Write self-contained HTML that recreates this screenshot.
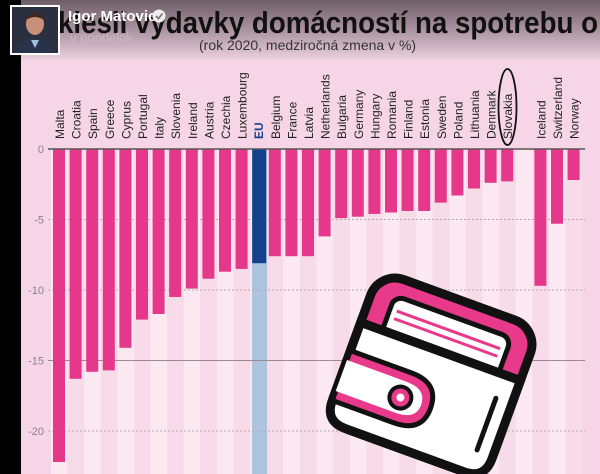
<!DOCTYPE html>
<html><head><meta charset="utf-8"><style>
html,body{margin:0;padding:0;width:600px;height:474px;overflow:hidden;background:#000}
svg{display:block}
</style></head><body>
<svg width="600" height="474" viewBox="0 0 600 474" xmlns="http://www.w3.org/2000/svg" font-family="Liberation Sans, sans-serif">
<defs>
<linearGradient id="hd" x1="0" y1="0" x2="0" y2="1">
<stop offset="0" stop-color="#6e5d66"/><stop offset="0.6" stop-color="#b79fac"/><stop offset="1" stop-color="#ecd0de"/>
</linearGradient>
</defs>
<rect x="0" y="0" width="600" height="474" fill="#000"/>
<rect x="21" y="0" width="579" height="474" fill="#f6d6e6"/>
<rect x="21" y="0" width="579" height="60" fill="url(#hd)"/>
<g>
<rect x="51" y="149" width="16.6" height="325" fill="#fbe8f1"/>
<rect x="67.6" y="149" width="16.6" height="325" fill="#f8dbe9"/>
<rect x="84.2" y="149" width="16.6" height="325" fill="#fbe8f1"/>
<rect x="100.8" y="149" width="16.6" height="325" fill="#f8dbe9"/>
<rect x="117.4" y="149" width="16.6" height="325" fill="#fbe8f1"/>
<rect x="134" y="149" width="16.6" height="325" fill="#f8dbe9"/>
<rect x="150.6" y="149" width="16.6" height="325" fill="#fbe8f1"/>
<rect x="167.2" y="149" width="16.6" height="325" fill="#f8dbe9"/>
<rect x="183.8" y="149" width="16.6" height="325" fill="#fbe8f1"/>
<rect x="200.4" y="149" width="16.6" height="325" fill="#f8dbe9"/>
<rect x="217" y="149" width="16.6" height="325" fill="#fbe8f1"/>
<rect x="233.6" y="149" width="16.6" height="325" fill="#f8dbe9"/>
<rect x="250.2" y="149" width="16.6" height="325" fill="#fbe8f1"/>
<rect x="266.8" y="149" width="16.6" height="325" fill="#f8dbe9"/>
<rect x="283.4" y="149" width="16.6" height="325" fill="#fbe8f1"/>
<rect x="300" y="149" width="16.6" height="325" fill="#f8dbe9"/>
<rect x="316.6" y="149" width="16.6" height="325" fill="#fbe8f1"/>
<rect x="333.2" y="149" width="16.6" height="325" fill="#f8dbe9"/>
<rect x="349.8" y="149" width="16.6" height="325" fill="#fbe8f1"/>
<rect x="366.4" y="149" width="16.6" height="325" fill="#f8dbe9"/>
<rect x="383" y="149" width="16.6" height="325" fill="#fbe8f1"/>
<rect x="399.6" y="149" width="16.6" height="325" fill="#f8dbe9"/>
<rect x="416.2" y="149" width="16.6" height="325" fill="#fbe8f1"/>
<rect x="432.8" y="149" width="16.6" height="325" fill="#f8dbe9"/>
<rect x="449.4" y="149" width="16.6" height="325" fill="#fbe8f1"/>
<rect x="466" y="149" width="16.6" height="325" fill="#f8dbe9"/>
<rect x="482.6" y="149" width="16.6" height="325" fill="#fbe8f1"/>
<rect x="499.2" y="149" width="16.6" height="325" fill="#f8dbe9"/>
<rect x="515.8" y="149" width="16.6" height="325" fill="#fbe8f1"/>
<rect x="532.4" y="149" width="16.6" height="325" fill="#f8dbe9"/>
<rect x="549" y="149" width="16.6" height="325" fill="#fbe8f1"/>
<rect x="565.6" y="149" width="16.6" height="325" fill="#f8dbe9"/>
<rect x="252" y="149" width="15" height="325" fill="#adc4de"/>
</g>
<text x="58" y="33" font-size="31" font-weight="bold" fill="#111" textLength="540" lengthAdjust="spacingAndGlyphs">klesli výdavky domácností na spotrebu o</text>
<text x="199" y="50" font-size="14" fill="#333">(rok 2020, medziročná zmena v %)</text>
<rect x="10" y="5" width="50" height="50" fill="#fff"/>
<rect x="12" y="7" width="46" height="46" fill="#2b3040"/>
<ellipse cx="35" cy="24" rx="9" ry="11" fill="#c98f78"/>
<path d="M26 17 Q35 8 44 17 L44 20 Q35 14 26 20Z" fill="#3a2a22"/>
<path d="M16 53 Q20 38 35 38 Q50 38 54 53Z" fill="#283248"/>
<path d="M31 40 L35 48 L39 40Z" fill="#9fc0e0"/>
<text x="68" y="21" font-size="15" font-weight="bold" fill="#fff">Igor Matovic</text>
<circle cx="159" cy="16" r="6.5" fill="#eee"/>
<path d="M156 16 l2.5 2.5 l4 -5" stroke="#777" stroke-width="1.8" fill="none"/>
<text x="70" y="42" font-size="13" fill="#c8b6c0">v pondelok</text>

<g stroke-width="1">
<line x1="48" x2="585" y1="219.5" y2="219.5" stroke="#b8a8b0" stroke-dasharray="2,2"/>
<line x1="48" x2="585" y1="290" y2="290" stroke="#b8a8b0" stroke-dasharray="2,2"/>
<line x1="48" x2="585" y1="360.5" y2="360.5" stroke="#9a8a92"/>
<line x1="48" x2="585" y1="431" y2="431" stroke="#b8a8b0" stroke-dasharray="2,2"/>
</g>
<g font-size="11" fill="#8a8088" text-anchor="end">
<text x="44" y="153">0</text>
<text x="44" y="223.5">-5</text>
<text x="44" y="294">-10</text>
<text x="44" y="364.5">-15</text>
<text x="44" y="435">-20</text>
</g>
<g fill="#e5388a">
<rect x="53" y="149" width="12" height="313"/>
<rect x="69.6" y="149" width="12" height="229.8"/>
<rect x="86.2" y="149" width="12" height="222.8"/>
<rect x="102.8" y="149" width="12" height="221.4"/>
<rect x="119.4" y="149" width="12" height="198.8"/>
<rect x="136" y="149" width="12" height="170.6"/>
<rect x="152.6" y="149" width="12" height="165"/>
<rect x="169.2" y="149" width="12" height="148"/>
<rect x="185.8" y="149" width="12" height="139.6"/>
<rect x="202.4" y="149" width="12" height="129.7"/>
<rect x="219" y="149" width="12" height="122.7"/>
<rect x="235.6" y="149" width="12" height="119.9"/>
<rect x="252.2" y="149" width="14" height="114.2" fill="#14408e"/>
<rect x="268.8" y="149" width="12" height="107.2"/>
<rect x="285.4" y="149" width="12" height="107.2"/>
<rect x="302" y="149" width="12" height="107.2"/>
<rect x="318.6" y="149" width="12" height="87.4"/>
<rect x="335.2" y="149" width="12" height="69.1"/>
<rect x="351.8" y="149" width="12" height="67.7"/>
<rect x="368.4" y="149" width="12" height="64.9"/>
<rect x="385" y="149" width="12" height="63.5"/>
<rect x="401.6" y="149" width="12" height="62"/>
<rect x="418.2" y="149" width="12" height="62"/>
<rect x="434.8" y="149" width="12" height="53.6"/>
<rect x="451.4" y="149" width="12" height="46.5"/>
<rect x="468" y="149" width="12" height="39.5"/>
<rect x="484.6" y="149" width="12" height="33.8"/>
<rect x="501.2" y="149" width="12" height="32.4"/>
<rect x="534.4" y="149" width="12" height="136.8"/>
<rect x="551" y="149" width="12" height="74.7"/>
<rect x="567.6" y="149" width="12" height="31"/>
</g>
<g font-size="12" fill="#222">
<text transform="translate(64,139) rotate(-90)">Malta</text>
<text transform="translate(80.6,139) rotate(-90)">Croatia</text>
<text transform="translate(97.2,139) rotate(-90)">Spain</text>
<text transform="translate(113.8,139) rotate(-90)">Greece</text>
<text transform="translate(130.4,139) rotate(-90)">Cyprus</text>
<text transform="translate(147,139) rotate(-90)">Portugal</text>
<text transform="translate(163.6,139) rotate(-90)">Italy</text>
<text transform="translate(180.2,139) rotate(-90)">Slovenia</text>
<text transform="translate(196.8,139) rotate(-90)">Ireland</text>
<text transform="translate(213.4,139) rotate(-90)">Austria</text>
<text transform="translate(230,139) rotate(-90)">Czechia</text>
<text transform="translate(246.6,139) rotate(-90)">Luxembourg</text>
<text transform="translate(263.2,139) rotate(-90)" font-weight="bold" fill="#14408e">EU</text>
<text transform="translate(279.8,139) rotate(-90)">Belgium</text>
<text transform="translate(296.4,139) rotate(-90)">France</text>
<text transform="translate(313,139) rotate(-90)">Latvia</text>
<text transform="translate(329.6,139) rotate(-90)">Netherlands</text>
<text transform="translate(346.2,139) rotate(-90)">Bulgaria</text>
<text transform="translate(362.8,139) rotate(-90)">Germany</text>
<text transform="translate(379.4,139) rotate(-90)">Hungary</text>
<text transform="translate(396,139) rotate(-90)">Romania</text>
<text transform="translate(412.6,139) rotate(-90)">Finland</text>
<text transform="translate(429.2,139) rotate(-90)">Estonia</text>
<text transform="translate(445.8,139) rotate(-90)">Sweden</text>
<text transform="translate(462.4,139) rotate(-90)">Poland</text>
<text transform="translate(479,139) rotate(-90)">Lithuania</text>
<text transform="translate(495.6,139) rotate(-90)">Denmark</text>
<text transform="translate(512.2,139) rotate(-90)">Slovakia</text>
<text transform="translate(545.4,139) rotate(-90)">Iceland</text>
<text transform="translate(562,139) rotate(-90)">Switzerland</text>
<text transform="translate(578.6,139) rotate(-90)">Norway</text>
</g>
<line x1="48" x2="585" y1="149" y2="149" stroke="#555" stroke-width="1.5"/>
<ellipse cx="507.5" cy="107" rx="9" ry="38" fill="none" stroke="#111" stroke-width="1.8"/>

<g transform="translate(432,375) rotate(20)">
<rect x="-85" y="-80" width="170" height="160" rx="26" fill="#e8398a" stroke="#111" stroke-width="9"/>
<rect x="-62" y="-62" width="124" height="60" rx="10" fill="#fff" stroke="#111" stroke-width="5"/>
<line x1="-55" y1="-48" x2="55" y2="-48" stroke="#e8398a" stroke-width="3"/>
<line x1="-55" y1="-40" x2="55" y2="-40" stroke="#e8398a" stroke-width="3"/>
<path d="M-85 -25 L85 -25 L85 58 Q85 80 63 80 L-63 80 Q-85 80 -85 58Z" fill="#fff" stroke="#111" stroke-width="9"/>
<path d="M-85 5 L-20 5 Q10 5 10 32 Q10 58 -20 58 L-85 58Z" fill="#e8398a" stroke="#111" stroke-width="5"/>
<path d="M-85 15 L-22 15 Q0 15 0 32 Q0 48 -22 48 L-85 48Z" fill="#fff"/>
<circle cx="-22" cy="32" r="11" fill="#e8398a" stroke="#111" stroke-width="4"/>
<circle cx="-22" cy="32" r="4" fill="#fff"/>
<line x1="68" y1="0" x2="68" y2="55" stroke="#111" stroke-width="5" stroke-linecap="round"/>
</g>
</svg>
</body></html>
